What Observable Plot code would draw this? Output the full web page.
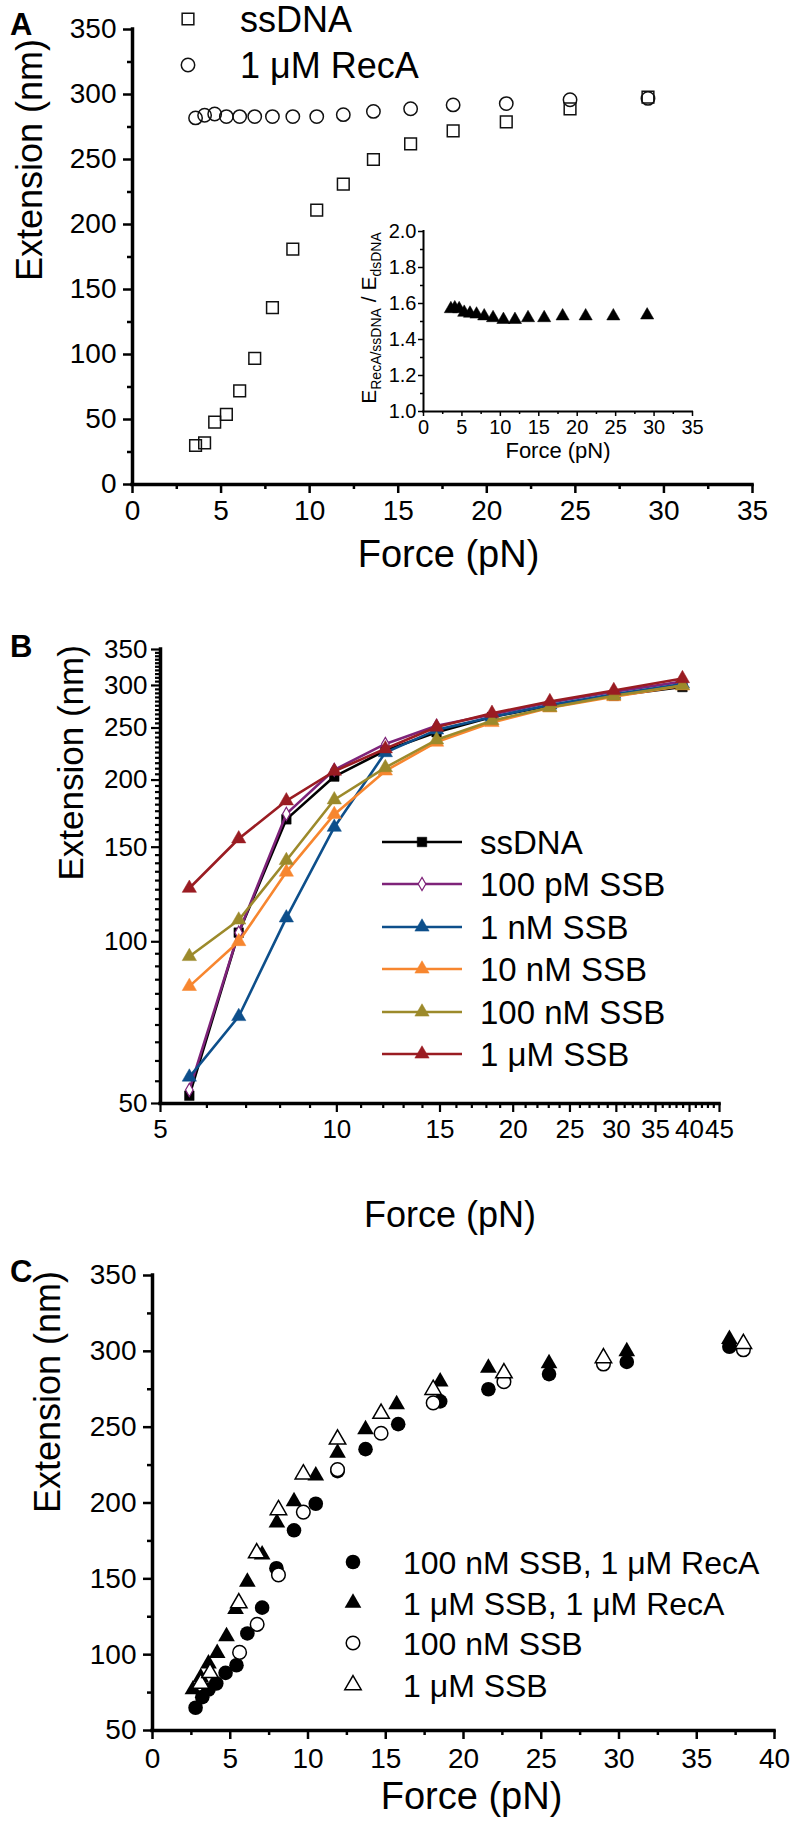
<!DOCTYPE html>
<html><head><meta charset="utf-8">
<script src="https://cdn.jsdelivr.net/npm/d3@7"></script>
<script src="https://cdn.jsdelivr.net/npm/@observablehq/plot@0.6"></script>
<style>
body{margin:0;background:#fff;}
#root{position:relative;width:800px;height:1831px;overflow:hidden;background:#fff;}
</style></head><body><div id="root"></div>
<script>
// ---------- Panel A data ----------
const forceA = [3.56, 4.07, 4.64, 5.3, 6.05, 6.9, 7.9, 9.05, 10.4, 11.9, 13.6, 15.7, 18.1, 21.1, 24.7, 29.1];
const extSsDNA_A = [30, 32, 48, 54, 72, 97, 136, 181, 211, 231, 250, 262, 272, 279, 289, 298];
const extRecA_A = [282, 284, 285, 283, 283, 283, 283, 283, 283, 284.5, 287, 289, 292, 293, 296, 297];
const ratioInset = [1.57, 1.575, 1.57, 1.55, 1.545, 1.54, 1.53, 1.52, 1.51, 1.51, 1.52, 1.52, 1.53, 1.53, 1.53, 1.535];
const legendA = ["ssDNA", "1 μM RecA"];
const xTicksA = [0, 5, 10, 15, 20, 25, 30, 35];
const yTicksA = [0, 50, 100, 150, 200, 250, 300, 350];
const xTicksInset = [0, 5, 10, 15, 20, 25, 30, 35];
const yTicksInset = [1.0, 1.2, 1.4, 1.6, 1.8, 2.0];

// ---------- Panel B data ----------
const forceB = [5.6, 6.8, 8.2, 9.9, 12.1, 14.8, 18.4, 23.1, 29.7, 38.9];
const seriesB = ["ssDNA", "100 pM SSB", "1 nM SSB", "10 nM SSB", "100 nM SSB", "1 μM SSB"];
const colorsB = ["#000000", "#7e2379", "#0d4f8b", "#f7862f", "#9c8a2b", "#9a1c22"];
const extB_ssDNA = [51.7, 104, 169, 203, 227, 245.5, 262, 275, 287, 298];
const extB_100pM = [53, 104, 173, 209, 233.5, 252.5, 265, 279, 292, 305];
const extB_1nM = [56, 72.6, 110.8, 163.4, 225, 248, 262, 276, 289, 302];
const extB_10nM = [82.6, 100.1, 134.8, 172.6, 208, 235.3, 256, 272.6, 286, 299.6];
const extB_100nM = [93.9, 109.8, 141.7, 183.8, 211, 237.7, 258, 273, 287, 300];
const extB_1uM = [125.8, 155.5, 183, 207.7, 228.7, 251, 266.3, 280, 293.6, 309];
const xTicksB = [5, 10, 15, 20, 25, 30, 35, 40, 45];
const yTicksB = [50, 100, 150, 200, 250, 300, 350];

// ---------- Panel C data ----------
const seriesC = ["100 nM SSB, 1 μM RecA", "1 μM SSB, 1 μM RecA", "100 nM SSB", "1 μM SSB"];
const forceC1 = [2.77, 3.2, 3.6, 4.1, 4.7, 5.4, 6.1, 7.05, 7.97, 9.1, 10.5, 11.9, 13.7, 15.8, 18.5, 21.6, 25.5, 30.5, 37.1];
const extC1 = [65, 72, 77, 81, 88, 93, 114, 131, 157, 182, 199.5, 221, 235.5, 252, 267, 275, 285, 293, 303];
const forceC2 = [2.6, 3.1, 3.6, 4.16, 4.76, 5.34, 6.1, 7.05, 8.0, 9.1, 10.5, 11.9, 13.7, 15.7, 18.5, 21.6, 25.5, 30.5, 37.1];
const extC2 = [77, 85, 94, 101, 112, 130, 148, 166, 187, 201, 218, 233, 248.5, 265, 280, 289, 292, 300, 308];
const forceC3 = [5.6, 6.73, 8.1, 9.7, 11.9, 14.7, 18.05, 22.6, 29.0, 38.0];
const extC3 = [101.5, 120, 152.6, 194, 222, 246, 266, 280, 291.6, 301];
const forceC4 = [3.1, 3.7, 5.55, 6.7, 8.1, 9.7, 11.9, 14.7, 18.05, 22.6, 29.0, 38.0];
const extC4 = [81, 88, 134, 167, 195.4, 219, 242, 259, 274.7, 285.7, 295.6, 305];
const xTicksC = [0, 5, 10, 15, 20, 25, 30, 35, 40];
const yTicksC = [50, 100, 150, 200, 250, 300, 350];

// ---------- helpers ----------
const FONT = "'Liberation Sans', Arial, Helvetica, sans-serif";
const root = document.getElementById("root");
const zip = (xs, ys) => xs.map((x, i) => ({x, y: ys[i]}));
const minorBetween = (major, step) => {
  const out = [];
  for (let i = 0; i < major.length - 1; i++) {
    for (let v = major[i] + step; v < major[i + 1] - step / 2; v += step) out.push(+v.toFixed(6));
  }
  return out;
};
function axes({xMajor, xMinor, yMajor, yMinor, fontSize, xPad, yPad, sw, major, minor, yFmt}) {
  return [
    Plot.axisX({ticks: xMinor, tickSize: minor, tickFormat: () => "", strokeWidth: sw, label: null}),
    Plot.axisX({ticks: xMajor, tickSize: major, tickPadding: xPad, tickFormat: d => String(d), fontSize, strokeWidth: sw, label: null}),
    Plot.axisY({ticks: yMinor, tickSize: minor, tickFormat: () => "", strokeWidth: sw, label: null}),
    Plot.axisY({ticks: yMajor, tickSize: major, tickPadding: yPad, tickFormat: yFmt || (d => String(d)), fontSize, strokeWidth: sw, label: null})
  ];
}
function place(node, left, top) {
  node.style.position = "absolute";
  node.style.left = left + "px";
  node.style.top = top + "px";
  root.appendChild(node);
}
const baseStyle = {fontFamily: FONT, background: "transparent", overflow: "visible", color: "black"};

// ---------- Panel A ----------
const plotA = Plot.plot({
  width: 800, height: 600,
  marginLeft: 132, marginRight: 48, marginTop: 29, marginBottom: 116,
  x: {domain: [0, 35]}, y: {domain: [0, 350]},
  style: {...baseStyle, fontSize: "28px"},
  marks: [
    ...axes({xMajor: xTicksA, xMinor: minorBetween(xTicksA, 2.5), yMajor: yTicksA, yMinor: minorBetween(yTicksA, 25),
      fontSize: 28, xPad: 7, yPad: 7, sw: 2.5, major: 9, minor: 5}),
    Plot.ruleX([0], {strokeWidth: 3.5, strokeLinecap: "square"}),
    Plot.ruleY([0], {strokeWidth: 3.5, strokeLinecap: "square"}),
    Plot.dot(zip(forceA, extSsDNA_A), {x: "x", y: "y", symbol: "square", r: 6.6, stroke: "#111", strokeWidth: 1.5, fill: "none"}),
    Plot.dot(zip(forceA, extRecA_A), {x: "x", y: "y", symbol: "circle", r: 6.7, stroke: "#111", strokeWidth: 1.5, fill: "none"}),
    Plot.text(["Force (pN)"], {frameAnchor: "bottom", text: d => d, dy: 82, dx: 6, fontSize: 38}),
    Plot.text(["Extension (nm)"], {frameAnchor: "left", text: d => d, rotate: -90, dx: -102, dy: 24, fontSize: 36})
  ]
});
place(plotA, 0, 0);

// ---------- Inset ----------
const plotInset = Plot.plot({
  width: 380, height: 280,
  marginLeft: 83, marginRight: 28, marginTop: 31, marginBottom: 69,
  x: {domain: [0, 35]}, y: {domain: [1.0, 2.0]},
  style: {...baseStyle, fontSize: "20px"},
  marks: [
    ...axes({xMajor: xTicksInset, xMinor: minorBetween(xTicksInset, 2.5), yMajor: yTicksInset, yMinor: minorBetween(yTicksInset, 0.1),
      fontSize: 20, xPad: 3, yPad: 2, sw: 1.5, major: 5, minor: 3, yFmt: d3.format(".1f")}),
    Plot.ruleX([0], {strokeWidth: 2, strokeLinecap: "square"}),
    Plot.ruleY([1.0], {strokeWidth: 2, strokeLinecap: "square"}),
    Plot.dot(zip(forceA, ratioInset), {x: "x", y: "y", symbol: "triangle", r: 4.9, fill: "black", stroke: "black", strokeWidth: 0.5}),
    Plot.text(["Force (pN)"], {frameAnchor: "bottom", text: d => d, dy: 46, fontSize: 22})
  ]
});
place(plotInset, 340, 200);

// ---------- Panel B ----------
const extB = [extB_ssDNA, extB_100pM, extB_1nM, extB_10nM, extB_100nM, extB_1uM];
const symB = ["square", "diamond", "triangle", "triangle", "triangle", "triangle"];
const marksB = [];
seriesB.forEach((name, i) => {
  const data = zip(forceB, extB[i]);
  marksB.push(Plot.line(data, {x: "x", y: "y", stroke: colorsB[i], strokeWidth: 2.6}));
  if (symB[i] === "diamond") {
    marksB.push(Plot.dot(data, {x: "x", y: "y", symbol: "diamond", r: 4, fill: "white", stroke: colorsB[i], strokeWidth: 1.2}));
  } else if (symB[i] === "square") {
    marksB.push(Plot.dot(data, {x: "x", y: "y", symbol: "square", r: 5.4, fill: colorsB[i], stroke: colorsB[i], strokeWidth: 0.5}));
  } else {
    marksB.push(Plot.dot(data, {x: "x", y: "y", symbol: "triangle", r: 5.3, fill: colorsB[i], stroke: colorsB[i], strokeWidth: 0.5}));
  }
});
const plotB = Plot.plot({
  width: 800, height: 643,
  marginLeft: 160, marginRight: 81, marginTop: 49, marginBottom: 140,
  x: {type: "log", domain: [5, 45]}, y: {type: "log", domain: [50, 350]},
  style: {...baseStyle, fontSize: "26px"},
  marks: [
    ...axes({xMajor: xTicksB, xMinor: minorBetween(xTicksB, 1), yMajor: yTicksB, yMinor: minorBetween(yTicksB, 5),
      fontSize: 26, xPad: 7, yPad: 4, sw: 2.2, major: 9, minor: 5}),
    Plot.ruleX([5], {strokeWidth: 3.5, strokeLinecap: "square"}),
    Plot.ruleY([50], {strokeWidth: 3.5, strokeLinecap: "square"}),
    ...marksB,
    Plot.text(["Force (pN)"], {frameAnchor: "bottom", text: d => d, dy: 123, dx: 10, fontSize: 36}),
    Plot.text(["Extension (nm)"], {frameAnchor: "left", text: d => d, rotate: -90, dx: -89, dy: 4, fontSize: 35})
  ]
});
place(plotB, 0, 600);

// ---------- Panel C ----------
const plotC = Plot.plot({
  width: 800, height: 588,
  marginLeft: 152, marginRight: 26, marginTop: 32, marginBottom: 101,
  x: {domain: [0, 40]}, y: {domain: [50, 350]},
  style: {...baseStyle, fontSize: "28px"},
  marks: [
    ...axes({xMajor: xTicksC, xMinor: minorBetween(xTicksC, 2.5), yMajor: yTicksC, yMinor: minorBetween(yTicksC, 25),
      fontSize: 28, xPad: 9, yPad: 7, sw: 2.5, major: 9, minor: 5}),
    Plot.ruleX([0], {strokeWidth: 3.5, strokeLinecap: "square"}),
    Plot.ruleY([50], {strokeWidth: 3.5, strokeLinecap: "square"}),
    Plot.dot(zip(forceC1, extC1), {x: "x", y: "y", symbol: "circle", r: 7.3, fill: "black"}),
    Plot.dot(zip(forceC2, extC2), {x: "x", y: "y", symbol: "triangle", r: 6.2, fill: "black"}),
    Plot.dot(zip(forceC3, extC3), {x: "x", y: "y", symbol: "circle", r: 6.8, fill: "white", stroke: "black", strokeWidth: 1.5}),
    Plot.dot(zip(forceC4, extC4), {x: "x", y: "y", symbol: "triangle", r: 6.1, fill: "white", stroke: "black", strokeWidth: 1.5}),
    Plot.text(["Force (pN)"], {frameAnchor: "bottom", text: d => d, dy: 78, dx: 8, fontSize: 38}),
    Plot.text(["Extension (nm)"], {frameAnchor: "left", text: d => d, rotate: -90, dx: -104, dy: 10, fontSize: 36})
  ]
});
place(plotC, 0, 1243);

// ---------- Overlay: panel letters, legends, inset y label ----------
const ov = d3.create("svg").attr("width", 800).attr("height", 1831)
  .style("position", "absolute").style("left", "0px").style("top", "0px")
  .style("pointer-events", "none").style("font-family", FONT);
const sym = (type, r) => d3.symbol(type, Math.PI * r * r)();

// panel letters
[["A", 35], ["B", 657], ["C", 1282]].forEach(([t, y]) => {
  ov.append("text").attr("x", 10).attr("y", y).attr("font-size", 31).attr("font-weight", "bold").text(t);
});

// legend A
const legA = [{type: d3.symbolSquare, r: 6.6, y: 19}, {type: d3.symbolCircle, r: 6.7, y: 65}];
legendA.forEach((name, i) => {
  ov.append("path").attr("d", sym(legA[i].type, legA[i].r)).attr("transform", `translate(188,${legA[i].y})`)
    .attr("fill", "none").attr("stroke", "#111").attr("stroke-width", 1.5);
  ov.append("text").attr("x", 240).attr("y", legA[i].y).attr("dy", "0.36em").attr("font-size", 36).text(name);
});

// inset y label
const iy = ov.append("text").attr("transform", "translate(376,318) rotate(-90)").attr("text-anchor", "middle").attr("font-size", 21);
iy.append("tspan").text("E");
iy.append("tspan").attr("font-size", 14).attr("dy", 5).text("RecA/ssDNA");
iy.append("tspan").attr("dy", -5).text(" / E");
iy.append("tspan").attr("font-size", 14).attr("dy", 5).text("dsDNA");

// legend B
const rowsB = [842, 884, 927, 969, 1012, 1054];
seriesB.forEach((name, i) => {
  const y = rowsB[i];
  ov.append("line").attr("x1", 382).attr("x2", 462).attr("y1", y).attr("y2", y).attr("stroke", colorsB[i]).attr("stroke-width", 2.6);
  let d, fill = colorsB[i], stroke = colorsB[i], sw = 0.5;
  if (symB[i] === "square") d = sym(d3.symbolSquare, 5.4);
  else if (symB[i] === "diamond") { d = sym(d3.symbolDiamond, 4); fill = "white"; sw = 1.2; }
  else d = sym(d3.symbolTriangle, 5.3);
  ov.append("path").attr("d", d).attr("transform", `translate(422,${y})`).attr("fill", fill).attr("stroke", stroke).attr("stroke-width", sw);
  ov.append("text").attr("x", 480).attr("y", y).attr("dy", "0.36em").attr("font-size", 33).text(name);
});

// legend C
const rowsC = [1562, 1603, 1643, 1685];
const legC = [
  {type: d3.symbolCircle, r: 7.3, fill: "black", stroke: "none"},
  {type: d3.symbolTriangle, r: 6.2, fill: "black", stroke: "none"},
  {type: d3.symbolCircle, r: 6.8, fill: "white", stroke: "black"},
  {type: d3.symbolTriangle, r: 6.1, fill: "white", stroke: "black"}
];
seriesC.forEach((name, i) => {
  const y = rowsC[i];
  ov.append("path").attr("d", sym(legC[i].type, legC[i].r)).attr("transform", `translate(353,${y})`)
    .attr("fill", legC[i].fill).attr("stroke", legC[i].stroke).attr("stroke-width", 1.5);
  ov.append("text").attr("x", 403).attr("y", y).attr("dy", "0.36em").attr("font-size", 32).text(name);
});

root.appendChild(ov.node());
</script>
</body></html>
